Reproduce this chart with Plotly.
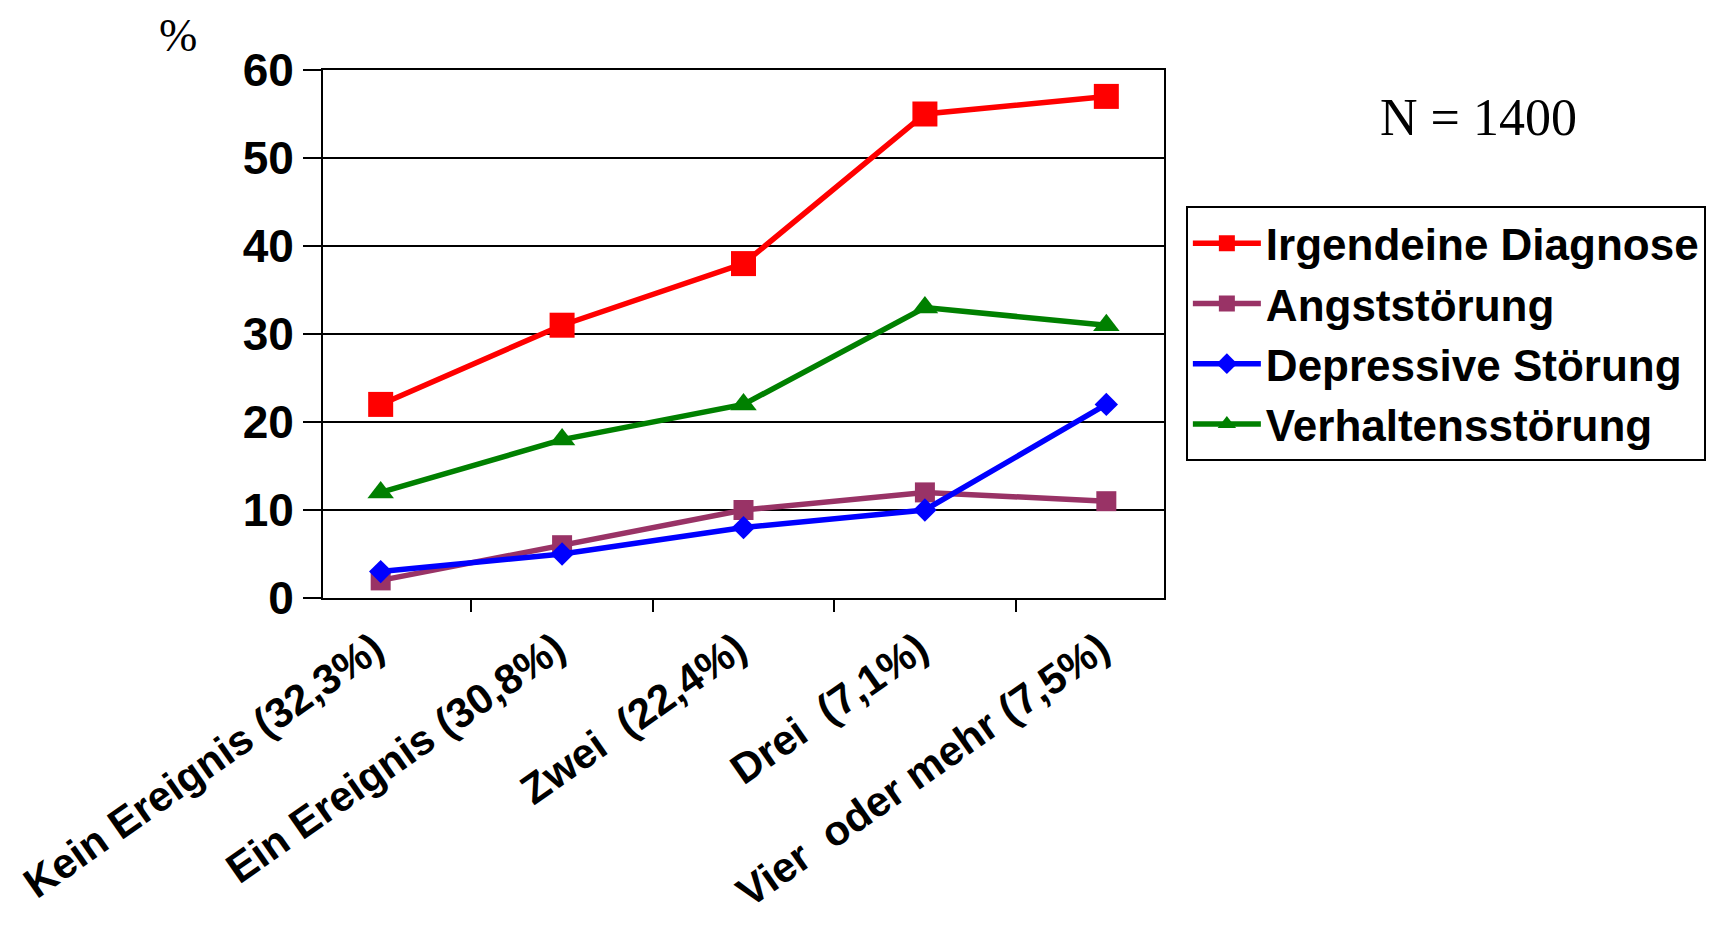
import plotly.graph_objects as go

categories = ["Kein Ereignis (32,3%)", "Ein Ereignis (30,8%)", "Zwei  (22,4%)",
              "Drei  (7,1%)", "Vier  oder mehr (7,5%)"]
irgendeine = [22, 31, 38, 55, 57]
angst = [2, 6, 10, 12, 11]
depressiv = [3, 5, 8, 10, 22]
verhalten = [12, 18, 22, 33, 31]

series = [
    ("Irgendeine Diagnose", irgendeine, "#FF0000", "square", 25),
    ("Angststörung", angst, "#993366", "square", 20),
    ("Depressive Störung", depressiv, "#0000FF", "diamond", 18),
    ("Verhaltensstörung", verhalten, "#008000", "triangle-up", 23),
]

fig = go.Figure()
for name, vals, color, sym, sz in series:
    fig.add_trace(go.Scatter(
        x=categories, y=vals, name=name, mode="lines+markers",
        legendgroup=name,
        line=dict(color=color, width=5.5),
        marker=dict(color=color, symbol=sym, size=sz, line=dict(width=0)),
    ))

fig.update_layout(
    width=1717, height=928,
    margin=dict(l=315, r=561, t=62, b=338, autoexpand=False),
    paper_bgcolor="white", plot_bgcolor="white",
    font=dict(family="Liberation Sans", color="black"),
    showlegend=True,
    legend=dict(
        x=1.026, y=0.742, xanchor="left", yanchor="top",
        bordercolor="black", borderwidth=2, bgcolor="white",
        font=dict(family="Liberation Sans", size=44, color="black", weight="bold"),
        tracegroupgap=3, itemwidth=68, traceorder="normal",
    ),
    annotations=[
        dict(text="N = 1400", x=1.3734, y=(62 - 109.5) / 528 + 1, xref="paper", yref="paper",
             xanchor="center", yanchor="middle",
             showarrow=False, font=dict(family="Liberation Serif", size=52, color="black")),
        dict(text="%", x=(170 - 315) / 841, y=1 + (62 - 28) / 528, xref="paper", yref="paper",
             xanchor="center", yanchor="middle",
             showarrow=False, font=dict(family="Liberation Serif", size=46, color="black")),
    ],
)

fig.update_xaxes(
    type="category", showline=True, linecolor="black", linewidth=2, mirror=True,
    ticks="outside", tickson="boundaries", ticklen=12, tickwidth=2, tickcolor="black",
    showgrid=False, tickangle=-35, automargin=False,
    ticklabelshift=-6, ticklabelstandoff=8,
    tickfont=dict(family="Liberation Sans", size=42, color="black", weight="bold"),
)
fig.update_yaxes(
    range=[0, 60], dtick=10, showline=True, linecolor="black", linewidth=2, mirror=True,
    ticks="outside", ticklen=18, tickwidth=2, tickcolor="black", automargin=False,
    showgrid=True, gridcolor="black", gridwidth=2, zeroline=False,
    tickfont=dict(family="Liberation Sans", size=46, color="black", weight="bold"),
)

fig.write_html("out.html")
